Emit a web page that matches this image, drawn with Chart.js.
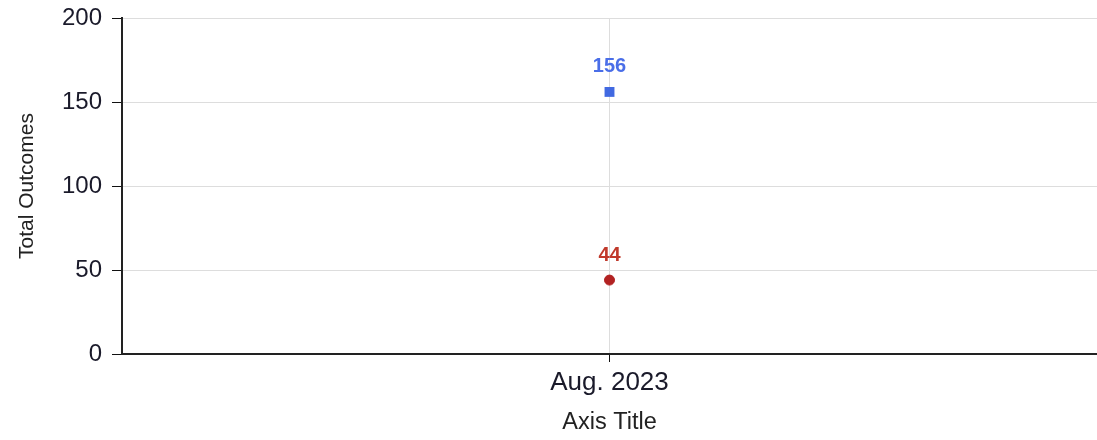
<!DOCTYPE html>
<html>
<head>
<meta charset="utf-8">
<script src="https://cdn.jsdelivr.net/npm/chart.js@4/dist/chart.umd.min.js"></script>
<style>
html,body{margin:0;padding:0;background:#fff;overflow:hidden;}
#wrap{width:1097px;height:440px;}
#c{display:block;}
</style>
</head>
<body>
<div id="wrap"><canvas id="c" width="1097" height="440"></canvas></div>
<script>
const categories = ["Aug. 2023"];
const seriesBlue = [156];
const seriesRed = [44];
const yTicks = [0, 50, 100, 150, 200];

const FONT = '"Liberation Sans", Arial, sans-serif';

const valueLabels = {
  id: 'valueLabels',
  afterDatasetsDraw(chart) {
    const ctx = chart.ctx;
    ctx.save();
    ctx.font = 'bold 20px ' + FONT;
    ctx.textAlign = 'center';
    ctx.textBaseline = 'middle';
    chart.data.datasets.forEach((ds, i) => {
      const meta = chart.getDatasetMeta(i);
      meta.data.forEach((pt, j) => {
        ctx.fillStyle = ds.labelColor;
        ctx.fillText(String(ds.data[j]), pt.x, pt.y - 25);
      });
    });
    ctx.restore();
  }
};

function zeroPad(s) { s.paddingTop = 0; s.paddingBottom = 0; s.paddingLeft = 0; s.paddingRight = 0; }

new Chart(document.getElementById('c'), {
  type: 'line',
  data: {
    labels: categories,
    datasets: [
      {
        data: seriesBlue,
        showLine: false,
        pointStyle: 'rect',
        pointRadius: 7,
        borderWidth: 0,
        backgroundColor: '#4169e1',
        borderColor: '#4169e1',
        labelColor: '#4a6ee8'
      },
      {
        data: seriesRed,
        showLine: false,
        pointStyle: 'circle',
        pointRadius: 5,
        borderWidth: 1,
        backgroundColor: '#b22222',
        borderColor: '#b22222',
        labelColor: '#c0392b'
      }
    ]
  },
  options: {
    responsive: false,
    animation: false,
    layout: { autoPadding: false, padding: { top: 18, right: 0, left: 0, bottom: 0 } },
    plugins: { legend: { display: false }, tooltip: { enabled: false } },
    scales: {
      x: {
        offset: true,
        grid: { offset: false, color: '#dddddd', tickColor: '#111', tickLength: 8, lineWidth: 1 },
        border: { color: '#222', width: 2 },
        ticks: { color: '#1a1a2a', font: { family: FONT, size: 26 }, padding: 5 },
        title: { display: true, text: 'Axis Title', color: '#222', font: { family: FONT, size: 23.5 }, padding: { top: 4, bottom: 3 } },
        afterFit(s) { s.height = 86; zeroPad(s); }
      },
      y: {
        min: 0, max: 200,
        afterBuildTicks(s) { s.ticks = yTicks.map(v => ({ value: v })); },
        grid: { color: '#dddddd', tickColor: '#111', tickLength: 10, lineWidth: 1 },
        border: { color: '#222', width: 2 },
        ticks: { color: '#1a1a2a', font: { family: FONT, size: 24 }, padding: 10 },
        title: { display: true, text: 'Total Outcomes', color: '#222', font: { family: FONT, size: 21 }, padding: { top: 15, bottom: 4 } },
        afterFit(s) { s.width = 122; zeroPad(s); }
      }
    }
  },
  plugins: [valueLabels]
});
</script>
</body>
</html>
